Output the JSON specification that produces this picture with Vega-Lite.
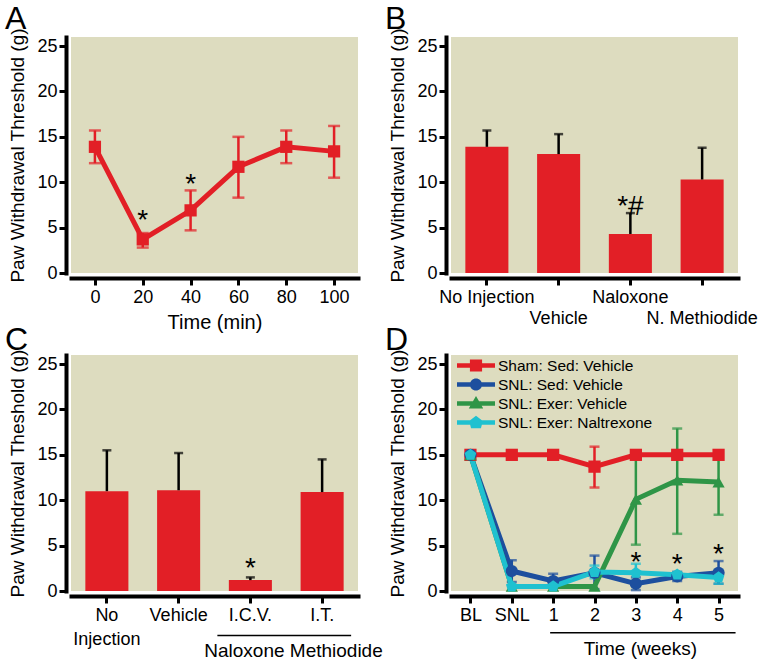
{
  "$schema": "https://vega.github.io/schema/vega-lite/v6.json",
  "padding": {"left": 5, "top": 2, "right": 0, "bottom": 0},
  "bounds": "flush",
  "columns": 2,
  "spacing": {"row": 82, "column": 93},
  "config": {
    "font": "Liberation Sans",
    "view": {"fill": "#dddcbf", "stroke": null},
    "axis": {
      "domainColor": "#000", "domainWidth": 4, "domainCap": "square",
      "tickColor": "#000", "tickWidth": 3, "tickSize": 7,
      "labelFont": "Liberation Sans", "labelFontSize": 18, "labelColor": "#000",
      "titleFont": "Liberation Sans", "titleFontSize": 19, "titleFontWeight": "normal", "titleColor": "#000",
      "grid": false, "offset": 5, "labelPadding": 3, "labelAngle": 0
    },
    "axisY": {"labelPadding": 2, "titlePadding": 9},
    "legend": {"title": null, "orient": "none", "direction": "vertical", "legendX": 386, "legendY": 319, "padding": 0,
               "symbolSize": 1444, "clipHeight": 19, "rowPadding": 0, "labelOffset": 3,
               "labelFontSize": 15.5, "labelFont": "Liberation Sans", "labelColor": "#000", "labelLimit": 300,
               "symbolStrokeWidth": 0, "symbolOpacity": 1},
    "title": {"fontSize": 32, "fontWeight": "normal", "anchor": "start", "frame": "group", "dx": -66, "offset": -8, "baseline": "alphabetic", "color": "#000", "font": "Liberation Sans"},
    "text": {"font": "Liberation Sans", "color": "#000"}
  },
  "concat": [
    {
      "width": 287, "height": 236,
      "title": {"text": "A"},
      "data": {"values": [
        {"time": 0, "mean": 13.9, "lo": 12.1, "hi": 15.7},
        {"time": 20, "mean": 3.7, "lo": 2.8, "hi": 4.4},
        {"time": 40, "mean": 6.9, "lo": 4.7, "hi": 9.1},
        {"time": 60, "mean": 11.7, "lo": 8.3, "hi": 15.0},
        {"time": 80, "mean": 13.9, "lo": 12.1, "hi": 15.7},
        {"time": 100, "mean": 13.4, "lo": 10.5, "hi": 16.2}
      ]},
      "encoding": {
        "x": {"field": "time", "type": "quantitative", "scale": {"domain": [-10, 110], "nice": false, "zero": false},
              "axis": {"values": [0, 20, 40, 60, 80, 100], "title": "Time (min)", "titleFontSize": 20, "titlePadding": 6}}
      },
      "layer": [
        {"mark": {"type": "rule", "color": "#e21f26", "strokeWidth": 2.5},
         "encoding": {"y": {"field": "lo", "type": "quantitative", "scale": {"domain": [0, 26], "nice": false},
                            "axis": {"values": [0, 5, 10, 15, 20, 25], "title": "Paw Withdrawal Threshold (g)"}},
                      "y2": {"field": "hi"}}},
        {"mark": {"type": "tick", "orient": "horizontal", "color": "#e21f26", "size": 12, "thickness": 2.5},
         "encoding": {"y": {"field": "lo", "type": "quantitative"}}},
        {"mark": {"type": "tick", "orient": "horizontal", "color": "#e21f26", "size": 12, "thickness": 2.5},
         "encoding": {"y": {"field": "hi", "type": "quantitative"}}},
        {"mark": {"type": "line", "color": "#e21f26", "strokeWidth": 5},
         "encoding": {"y": {"field": "mean", "type": "quantitative"}}},
        {"mark": {"type": "point", "shape": "square", "filled": true, "opacity": 1, "size": 150, "color": "#e21f26"},
         "encoding": {"y": {"field": "mean", "type": "quantitative"}}},
        {"data": {"values": [{"time": 20, "y": 6.6, "label": "*"}, {"time": 40, "y": 10.6, "label": "*"}]},
         "mark": {"type": "text", "fontSize": 28, "baseline": "middle", "dy": 8},
         "encoding": {"y": {"field": "y", "type": "quantitative"}, "text": {"field": "label"}}}
      ]
    },
    {
      "width": 287, "height": 236,
      "title": {"text": "B"},
      "data": {"values": [
        {"cond": "No Injection", "mean": 13.9, "hi": 15.7},
        {"cond": "Vehicle", "mean": 13.1, "hi": 15.3},
        {"cond": "Naloxone", "mean": 4.3, "hi": 6.6},
        {"cond": "N. Methiodide", "mean": 10.3, "hi": 13.8}
      ]},
      "encoding": {
        "x": {"field": "cond", "type": "nominal",
              "scale": {"domain": ["No Injection", "Vehicle", "Naloxone", "N. Methiodide"], "paddingInner": 0.4, "paddingOuter": 0.2},
              "axis": {"title": null, "labelLineHeight": 21,
                       "labelExpr": "datum.value == 'Vehicle' || datum.value == 'N. Methiodide' ? ['', datum.value] : datum.value"}}
      },
      "layer": [
        {"mark": {"type": "bar", "color": "#e21f26"},
         "encoding": {"y": {"field": "mean", "type": "quantitative", "scale": {"domain": [0, 26], "nice": false},
                            "axis": {"values": [0, 5, 10, 15, 20, 25], "title": "Paw Withdrawal Threshold (g)"}}}},
        {"mark": {"type": "rule", "color": "#000", "strokeWidth": 2.5},
         "encoding": {"y": {"field": "mean", "type": "quantitative"}, "y2": {"field": "hi"}}},
        {"mark": {"type": "tick", "orient": "horizontal", "color": "#000", "size": 9, "thickness": 2.5},
         "encoding": {"y": {"field": "hi", "type": "quantitative"}}},
        {"data": {"values": [{"cond": "Naloxone", "y": 8.2, "label": "*#"}]},
         "mark": {"type": "text", "fontSize": 28, "baseline": "middle", "dy": 8},
         "encoding": {"y": {"field": "y", "type": "quantitative"}, "text": {"field": "label"}}}
      ]
    },
    {
      "width": 287, "height": 236,
      "title": {"text": "C"},
      "data": {"values": [
        {"cond": "No Injection", "mean": 11.0, "hi": 15.5},
        {"cond": "Vehicle", "mean": 11.1, "hi": 15.2},
        {"cond": "I.C.V.", "mean": 1.2, "hi": 1.5},
        {"cond": "I.T.", "mean": 10.9, "hi": 14.5}
      ]},
      "encoding": {
        "x": {"field": "cond", "type": "nominal",
              "scale": {"domain": ["No Injection", "Vehicle", "I.C.V.", "I.T."], "paddingInner": 0.4, "paddingOuter": 0.2},
              "axis": {"title": "Naloxone Methiodide", "titleX": 222, "titleY": 54, "titleBaseline": "middle", "titleAlign": "center",
                       "labelLineHeight": 24,
                       "labelExpr": "datum.value == 'No Injection' ? ['No', 'Injection'] : datum.value"}}
      },
      "layer": [
        {"mark": {"type": "bar", "color": "#e21f26"},
         "encoding": {"y": {"field": "mean", "type": "quantitative", "scale": {"domain": [0, 26], "nice": false},
                            "axis": {"values": [0, 5, 10, 15, 20, 25], "title": "Paw Withdrawal Theshold (g)"}}}},
        {"mark": {"type": "rule", "color": "#000", "strokeWidth": 2.5},
         "encoding": {"y": {"field": "mean", "type": "quantitative"}, "y2": {"field": "hi"}}},
        {"mark": {"type": "tick", "orient": "horizontal", "color": "#000", "size": 9, "thickness": 2.5},
         "encoding": {"y": {"field": "hi", "type": "quantitative"}}},
        {"data": {"values": [{"cond": "I.C.V.", "y": 3.3, "label": "*"}]},
         "mark": {"type": "text", "fontSize": 28, "baseline": "middle", "dy": 8},
         "encoding": {"y": {"field": "y", "type": "quantitative"}, "text": {"field": "label"}}},
        {"data": {"values": [{"from": "I.C.V.", "to": "I.T."}]},
         "mark": {"type": "rule", "color": "#000", "strokeWidth": 1.5, "xOffset": -33, "x2Offset": 29},
         "encoding": {"x": {"field": "from", "type": "nominal"}, "x2": {"field": "to"}, "y": {"datum": -4.9, "type": "quantitative"}}}
      ]
    },
    {
      "width": 287, "height": 236,
      "title": {"text": "D"},
      "data": {"values": [
        {"group": "Sham: Sed: Vehicle", "time": "BL", "mean": 15.0, "lo": null, "hi": null},
        {"group": "Sham: Sed: Vehicle", "time": "SNL", "mean": 15.0, "lo": null, "hi": null},
        {"group": "Sham: Sed: Vehicle", "time": "1", "mean": 15.0, "lo": null, "hi": null},
        {"group": "Sham: Sed: Vehicle", "time": "2", "mean": 13.7, "lo": 11.4, "hi": 15.9},
        {"group": "Sham: Sed: Vehicle", "time": "3", "mean": 15.0, "lo": null, "hi": null},
        {"group": "Sham: Sed: Vehicle", "time": "4", "mean": 15.0, "lo": null, "hi": null},
        {"group": "Sham: Sed: Vehicle", "time": "5", "mean": 15.0, "lo": null, "hi": null},
        {"group": "SNL: Sed: Vehicle", "time": "BL", "mean": 15.0, "lo": null, "hi": null},
        {"group": "SNL: Sed: Vehicle", "time": "SNL", "mean": 2.2, "lo": 1.0, "hi": 3.4},
        {"group": "SNL: Sed: Vehicle", "time": "1", "mean": 1.1, "lo": 0.4, "hi": 1.9},
        {"group": "SNL: Sed: Vehicle", "time": "2", "mean": 2.0, "lo": 0.2, "hi": 3.9},
        {"group": "SNL: Sed: Vehicle", "time": "3", "mean": 0.8, "lo": 0.1, "hi": 1.5},
        {"group": "SNL: Sed: Vehicle", "time": "4", "mean": 1.6, "lo": 1.1, "hi": 2.1},
        {"group": "SNL: Sed: Vehicle", "time": "5", "mean": 2.0, "lo": 0.8, "hi": 3.3},
        {"group": "SNL: Exer: Vehicle", "time": "BL", "mean": 15.0, "lo": null, "hi": null},
        {"group": "SNL: Exer: Vehicle", "time": "SNL", "mean": 0.5, "lo": null, "hi": null},
        {"group": "SNL: Exer: Vehicle", "time": "1", "mean": 0.5, "lo": null, "hi": null},
        {"group": "SNL: Exer: Vehicle", "time": "2", "mean": 0.5, "lo": null, "hi": null},
        {"group": "SNL: Exer: Vehicle", "time": "3", "mean": 10.1, "lo": 5.1, "hi": 14.9},
        {"group": "SNL: Exer: Vehicle", "time": "4", "mean": 12.2, "lo": 6.3, "hi": 17.9},
        {"group": "SNL: Exer: Vehicle", "time": "5", "mean": 12.0, "lo": 8.4, "hi": 15.5},
        {"group": "SNL: Exer: Naltrexone", "time": "BL", "mean": 15.0, "lo": null, "hi": null},
        {"group": "SNL: Exer: Naltrexone", "time": "SNL", "mean": 0.5, "lo": null, "hi": null},
        {"group": "SNL: Exer: Naltrexone", "time": "1", "mean": 0.5, "lo": null, "hi": null},
        {"group": "SNL: Exer: Naltrexone", "time": "2", "mean": 2.1, "lo": 1.4, "hi": 2.8},
        {"group": "SNL: Exer: Naltrexone", "time": "3", "mean": 2.0, "lo": 1.1, "hi": 3.0},
        {"group": "SNL: Exer: Naltrexone", "time": "4", "mean": 1.8, "lo": 1.5, "hi": 2.1},
        {"group": "SNL: Exer: Naltrexone", "time": "5", "mean": 1.5, "lo": 0.8, "hi": 2.3}
      ]},
      "encoding": {
        "x": {"field": "time", "type": "ordinal",
              "scale": {"type": "point", "domain": ["BL", "SNL", "1", "2", "3", "4", "5"], "padding": 0.47},
              "axis": {"title": "Time (weeks)", "titleX": 189, "titleY": 52, "titleBaseline": "middle", "titleAlign": "center"}},
        "color": {"field": "group", "type": "nominal",
                  "scale": {"domain": ["Sham: Sed: Vehicle", "SNL: Sed: Vehicle", "SNL: Exer: Vehicle", "SNL: Exer: Naltrexone"],
                            "range": ["#e21f26", "#1d4f9e", "#2f9547", "#1fc1d0"]}}
      },
      "layer": [
        {"mark": {"type": "rule", "strokeWidth": 2.5},
         "encoding": {"y": {"field": "lo", "type": "quantitative", "scale": {"domain": [0, 26], "nice": false},
                            "axis": {"values": [0, 5, 10, 15, 20, 25], "title": "Paw Withdrawal Theshold (g)"}},
                      "y2": {"field": "hi"}}},
        {"mark": {"type": "tick", "orient": "horizontal", "size": 10, "thickness": 2.5},
         "encoding": {"y": {"field": "lo", "type": "quantitative"}}},
        {"mark": {"type": "tick", "orient": "horizontal", "size": 10, "thickness": 2.5},
         "encoding": {"y": {"field": "hi", "type": "quantitative"}}},
        {"mark": {"type": "line", "strokeWidth": 5},
         "encoding": {"y": {"field": "mean", "type": "quantitative"}}},
        {"mark": {"type": "point", "filled": true, "opacity": 0, "size": 150},
         "encoding": {"y": {"field": "mean", "type": "quantitative"},
                      "shape": {"field": "group", "type": "nominal",
                                "scale": {"domain": ["Sham: Sed: Vehicle", "SNL: Sed: Vehicle", "SNL: Exer: Vehicle", "SNL: Exer: Naltrexone"],
                                          "range": ["M-1,-0.12H1V0.12H-1Z M-0.32,-0.32H0.32V0.32H-0.32Z",
                                                    "M-1,-0.12H1V0.12H-1Z M0.32,0A0.32,0.32,0,1,1,-0.32,0A0.32,0.32,0,1,1,0.32,0Z",
                                                    "M-1,-0.12H1V0.12H-1Z M0,-0.4L0.38,0.26L-0.38,0.26Z",
                                                    "M-1,-0.12H1V0.12H-1Z M0,-0.36L0.36,-0.08L0.26,0.3L-0.26,0.3L-0.36,-0.08Z"]}}}},
        {"transform": [{"filter": {"field": "group", "equal": "Sham: Sed: Vehicle"}}],
         "mark": {"type": "point", "shape": "square", "filled": true, "opacity": 1, "size": 150},
         "encoding": {"y": {"field": "mean", "type": "quantitative"}}},
        {"transform": [{"filter": {"field": "group", "equal": "SNL: Sed: Vehicle"}}],
         "mark": {"type": "point", "shape": "circle", "filled": true, "opacity": 1, "size": 150},
         "encoding": {"y": {"field": "mean", "type": "quantitative"}}},
        {"transform": [{"filter": {"field": "group", "equal": "SNL: Exer: Vehicle"}}],
         "mark": {"type": "point", "shape": "triangle-up", "filled": true, "opacity": 1, "size": 150},
         "encoding": {"y": {"field": "mean", "type": "quantitative"}}},
        {"transform": [{"filter": {"field": "group", "equal": "SNL: Exer: Naltrexone"}}],
         "mark": {"type": "point", "shape": "M0,-1L0.95,-0.31L0.59,0.81L-0.59,0.81L-0.95,-0.31Z", "filled": true, "opacity": 1, "size": 150},
         "encoding": {"y": {"field": "mean", "type": "quantitative"}}},
        {"data": {"values": [{"time": "3", "y": 4.0, "label": "*"}, {"time": "4", "y": 3.7, "label": "*"}, {"time": "5", "y": 4.8, "label": "*"}]},
         "mark": {"type": "text", "fontSize": 28, "baseline": "middle", "dy": 8, "color": "#000"},
         "encoding": {"y": {"field": "y", "type": "quantitative"}, "text": {"field": "label"}, "color": {"value": "#000"}}},
        {"data": {"values": [{"from": "1", "to": "5"}]},
         "mark": {"type": "rule", "color": "#000", "strokeWidth": 1.5, "xOffset": -3, "x2Offset": 17},
         "encoding": {"x": {"field": "from", "type": "ordinal"}, "x2": {"field": "to"}, "y": {"datum": -4.6, "type": "quantitative"}, "color": {"value": "#000"}}}
      ]
    }
  ]
}
